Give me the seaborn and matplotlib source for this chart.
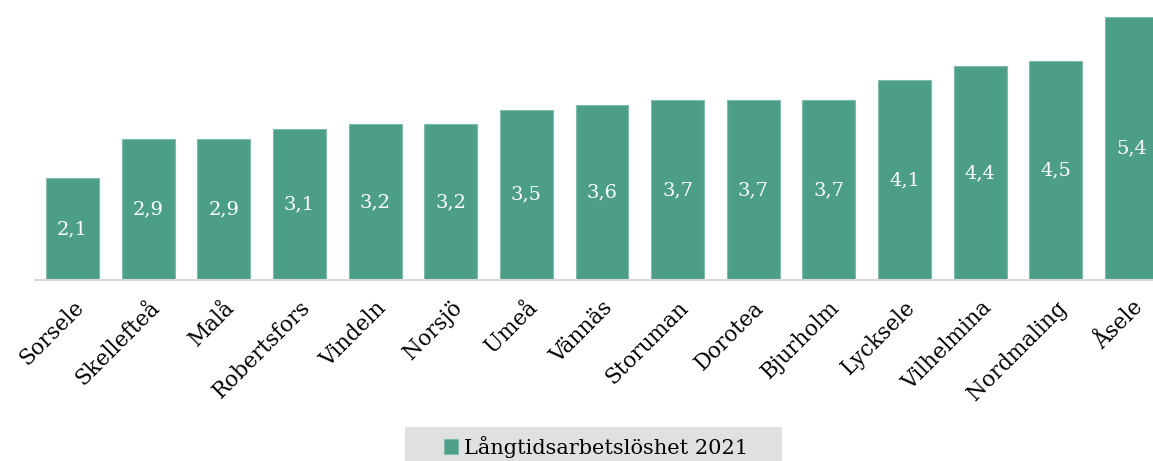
import matplotlib
matplotlib.use("Agg")
import matplotlib.pyplot as plt
import matplotlib.patches as mpatches
import seaborn as sns
import pandas as pd

# Långtidsarbetslöshet per kommun 2021
kommuner = ["Sorsele", "Skellefteå", "Malå", "Robertsfors", "Vindeln", "Norsjö", "Umeå",
            "Vännäs", "Storuman", "Dorotea", "Bjurholm", "Lycksele", "Vilhelmina",
            "Nordmaling", "Åsele"]
varden = [2.1, 2.9, 2.9, 3.1, 3.2, 3.2, 3.5, 3.6, 3.7, 3.7, 3.7, 4.1, 4.4, 4.5, 5.4]
serie = "Långtidsarbetslöshet 2021"

df = pd.DataFrame({"Kommun": kommuner, "Värde": varden})

sns.set_style("white")
plt.rcParams["font.family"] = ["DejaVu Serif"]
plt.rcParams["text.color"] = "black"

farg = "#4c9e89"

fig = plt.figure(figsize=(11.53, 4.61), dpi=100)
ax = fig.add_axes([0.0301, 0.3926, 0.984, 0.6074])

sns.barplot(data=df, x="Kommun", y="Värde", color=farg, width=0.7,
            edgecolor="#7fbcae", linewidth=0.8, saturation=1, ax=ax, label=serie)

for i, v in enumerate(varden):
    ax.text(i, v / 2, f"{v:.1f}".replace(".", ","), ha="center", va="center",
            color="white", fontsize=14)

ax.set_xlim(-0.5, len(kommuner) - 0.5)
ax.set_ylim(0, 5.75)
ax.set_xlabel("")
ax.set_ylabel("")
ax.set_yticks([])
for s in ["top", "right", "left"]:
    ax.spines[s].set_visible(False)
ax.spines["bottom"].set_color("#d9d9d9")
ax.spines["bottom"].set_linewidth(1.5)

ax.tick_params(axis="x", length=0, pad=12)
plt.setp(ax.get_xticklabels(), rotation=45, ha="right", rotation_mode="anchor",
         fontsize=15.5, color="black")

# grå bakgrund bakom förklaringen
fig.patches.append(mpatches.Rectangle((405 / 1153, 0), 377 / 1153, 34 / 461,
                                      transform=fig.transFigure, facecolor="#e0e0e0",
                                      edgecolor="none", zorder=0))

if ax.legend_:
    ax.legend_.remove()
h, l = ax.get_legend_handles_labels()
leg = fig.legend(h[:1], l[:1], loc="center", bbox_to_anchor=(596 / 1153, 1 - 447 / 461),
                 frameon=False, fontsize=15, handlelength=0.7, labelcolor="black",
                 handleheight=0.7, handletextpad=0.3, borderpad=0, borderaxespad=0)

fig.savefig("out.png", dpi=100)
